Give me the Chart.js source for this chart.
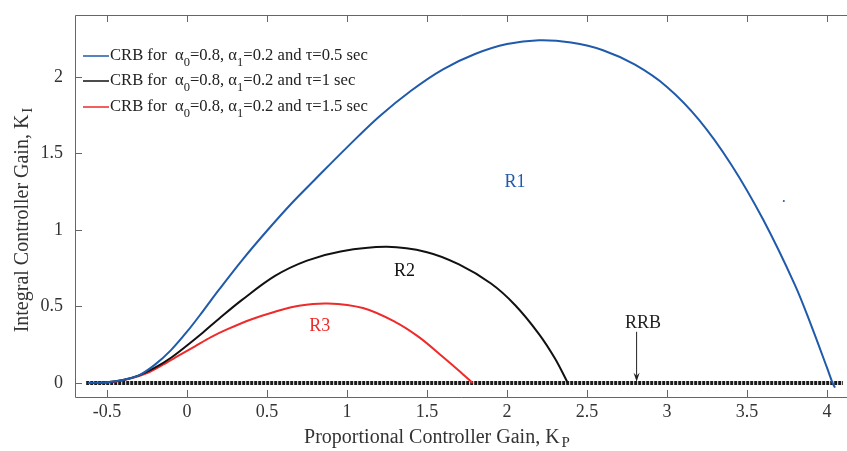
<!DOCTYPE html>
<html>
<head>
<meta charset="utf-8">
<script src="https://cdn.jsdelivr.net/npm/chart.js@4"></script>
<style>
  html, body { margin: 0; padding: 0; background: #fff; }
  #wrap { width: 847px; height: 451px; }
</style>
</head>
<body>
<div id="wrap"><canvas id="crbChart"></canvas></div>
<script>
// stability boundary curves (Kp, Ki)
const kpTau05 = [-0.62, -0.5, -0.4, -0.3, -0.2, -0.1, 0, 0.1, 0.2, 0.35, 0.5, 0.65, 0.8, 1.0, 1.2, 1.4, 1.6, 1.8, 2.0, 2.2, 2.4, 2.6, 2.8, 3.0, 3.2, 3.4, 3.6, 3.8, 3.9, 4.0, 4.035, 4.05];
const kiTau05 = [0, 0.005, 0.02, 0.05, 0.12, 0.215, 0.335, 0.47, 0.61, 0.81, 0.995, 1.17, 1.33, 1.54, 1.74, 1.91, 2.05, 2.15, 2.215, 2.24, 2.225, 2.175, 2.08, 1.935, 1.72, 1.43, 1.07, 0.64, 0.38, 0.1, 0, -0.03];

const kpTau1 = [-0.6, -0.5, -0.4, -0.3, -0.2, -0.1, 0, 0.1, 0.2, 0.34, 0.55, 0.75, 0.96, 1.25, 1.5, 1.7, 1.9, 2.05, 2.2, 2.3, 2.38];
const kiTau1 = [0, 0.005, 0.02, 0.05, 0.1, 0.165, 0.245, 0.33, 0.42, 0.54, 0.70, 0.80, 0.86, 0.89, 0.855, 0.775, 0.65, 0.51, 0.32, 0.16, 0];

const kpTau15 = [-0.55, -0.45, -0.35, -0.25, -0.15, -0.05, 0.05, 0.15, 0.25, 0.4, 0.55, 0.7, 0.88, 1.1, 1.3, 1.45, 1.6, 1.7, 1.785];
const kiTau15 = [0, 0.008, 0.03, 0.065, 0.12, 0.18, 0.24, 0.30, 0.35, 0.415, 0.466, 0.505, 0.52, 0.49, 0.40, 0.30, 0.17, 0.08, 0];

// real root boundary along Ki = 0
const kpRRB = [-0.63, 4.1];
const kiRRB = [0, 0];

// stray point near the blue curve
const kpDot = [3.73];
const kiDot = [1.19];

const tauValues = ['0.5', '1', '1.5'];
const alpha0 = '0.8';
const alpha1 = '0.2';

const xTicks = [-0.5, 0, 0.5, 1, 1.5, 2, 2.5, 3, 3.5, 4];
const yTicks = [0, 0.5, 1, 1.5, 2];

// region labels: text, Kp, Ki
const regionText = ['R1', 'R2', 'R3', 'RRB'];
const regionKp = [2.05, 1.36, 0.83, 2.85];
const regionKi = [1.31, 0.73, 0.37, 0.39];
const arrowKp = 2.81;
const arrowKiTop = 0.335;
const arrowKiTip = 0.008;

const BLUE = '#1f5aab';
const RED = '#ee2a2a';
const BLACK = '#111111';
const SERIF = '"Liberation Serif", "DejaVu Serif", serif';

function pts(xs, ys) {
  return xs.map((x, i) => ({ x: x, y: ys[i] }));
}

// legend with subscripts, drawn top-left inside the axes
const legendPlugin = {
  id: 'subLegend',
  afterDatasetsDraw(chart) {
    const ctx = chart.ctx;
    const colors = [BLUE, BLACK, RED];
    const rows = [56, 81, 107];
    ctx.save();
    tauValues.forEach((tau, i) => {
      const y = rows[i];
      ctx.strokeStyle = colors[i];
      ctx.lineWidth = 1.5;
      ctx.beginPath();
      ctx.moveTo(83, y);
      ctx.lineTo(109, y);
      ctx.stroke();
      const parts = [
        ['CRB for  \u03b1', false], ['0', true], ['=' + alpha0 + ', \u03b1', false], ['1', true],
        ['=' + alpha1 + ' and \u03c4=' + tau + ' sec', false]
      ];
      let x = 110;
      ctx.fillStyle = '#222';
      ctx.textBaseline = 'middle';
      ctx.textAlign = 'left';
      parts.forEach(p => {
        ctx.font = (p[1] ? '12.5px ' : '16.6px ') + SERIF;
        ctx.fillText(p[0], x, p[1] ? y + 7 : y);
        x += ctx.measureText(p[0]).width;
      });
    });
    ctx.restore();
  }
};

// axes box, inward ticks, region labels, arrow, axis titles
const framePlugin = {
  id: 'frame',
  afterDraw(chart) {
    const ctx = chart.ctx;
    const a = chart.chartArea;
    const xs = chart.scales.x;
    const ys = chart.scales.y;
    ctx.save();
    ctx.strokeStyle = '#666';
    ctx.lineWidth = 1;
    ctx.beginPath();
    ctx.moveTo(chart.width, a.top + 0.5);
    ctx.lineTo(a.left + 0.5, a.top + 0.5);
    ctx.lineTo(a.left + 0.5, a.bottom + 0.5);
    ctx.lineTo(chart.width, a.bottom + 0.5);
    xTicks.forEach(v => {
      const px = Math.round(xs.getPixelForValue(v)) + 0.5;
      ctx.moveTo(px, a.bottom);
      ctx.lineTo(px, a.bottom - 7);
      ctx.moveTo(px, a.top);
      ctx.lineTo(px, a.top + 7);
    });
    yTicks.forEach(v => {
      const py = Math.round(ys.getPixelForValue(v)) + 0.5;
      ctx.moveTo(a.left, py);
      ctx.lineTo(a.left + 7, py);
    });
    ctx.stroke();

    // region labels
    const labelColors = [BLUE, BLACK, RED, '#222'];
    ctx.font = '18px ' + SERIF;
    ctx.textAlign = 'center';
    ctx.textBaseline = 'middle';
    regionText.forEach((t, i) => {
      ctx.fillStyle = labelColors[i];
      ctx.fillText(t, xs.getPixelForValue(regionKp[i]), ys.getPixelForValue(regionKi[i]));
    });

    // arrow to the RRB line
    const ax = xs.getPixelForValue(arrowKp);
    const ay0 = ys.getPixelForValue(arrowKiTop);
    const ay1 = ys.getPixelForValue(arrowKiTip);
    ctx.strokeStyle = '#222';
    ctx.fillStyle = '#222';
    ctx.lineWidth = 1;
    ctx.beginPath();
    ctx.moveTo(ax, ay0);
    ctx.lineTo(ax, ay1 - 6);
    ctx.stroke();
    ctx.beginPath();
    ctx.moveTo(ax, ay1);
    ctx.lineTo(ax - 3, ay1 - 9);
    ctx.lineTo(ax, ay1 - 6);
    ctx.lineTo(ax + 3, ay1 - 9);
    ctx.closePath();
    ctx.fill();

    // axis titles with subscripts
    ctx.fillStyle = '#333';
    ctx.textAlign = 'left';
    ctx.textBaseline = 'alphabetic';
    const xMain = 'Proportional Controller Gain, K';
    ctx.font = '20px ' + SERIF;
    const wMain = ctx.measureText(xMain).width;
    ctx.font = '15px ' + SERIF;
    const wSub = ctx.measureText('P').width + 2;
    let x0 = 437 - (wMain + wSub) / 2;
    ctx.font = '20px ' + SERIF;
    ctx.fillText(xMain, x0, 443);
    ctx.font = '15px ' + SERIF;
    ctx.fillText('P', x0 + wMain + 2, 447);

    ctx.translate(28, 220);
    ctx.rotate(-Math.PI / 2);
    const yMain = 'Integral Controller Gain, K';
    ctx.font = '20px ' + SERIF;
    const wyMain = ctx.measureText(yMain).width;
    ctx.font = '15px ' + SERIF;
    const wySub = ctx.measureText('I').width + 2;
    const y0 = -(wyMain + wySub) / 2;
    ctx.font = '20px ' + SERIF;
    ctx.fillText(yMain, y0, 0);
    ctx.font = '15px ' + SERIF;
    ctx.fillText('I', y0 + wyMain + 2, 4);
    ctx.restore();
  }
};

const ctx = document.getElementById('crbChart').getContext('2d');
new Chart(ctx, {
  type: 'scatter',
  data: {
    datasets: [
      { label: 'tau 0.5', data: pts(kpTau05, kiTau05), borderColor: BLUE, borderWidth: 2 },
      { label: 'tau 1', data: pts(kpTau1, kiTau1), borderColor: BLACK, borderWidth: 2 },
      { label: 'tau 1.5', data: pts(kpTau15, kiTau15), borderColor: RED, borderWidth: 2 },
      { label: 'RRB', data: pts(kpRRB, kiRRB), borderColor: '#1a1a1a', borderWidth: 4, borderDash: [3, 1], tension: 0 },
      { label: 'dot', data: pts(kpDot, kiDot), showLine: false, pointRadius: 1, backgroundColor: BLUE, borderWidth: 0 }
    ]
  },
  options: {
    responsive: true,
    maintainAspectRatio: false,
    animation: false,
    datasets: {
      scatter: { showLine: true, pointRadius: 0, tension: 0.35, fill: false }
    },
    layout: { padding: { top: 15, right: 0, left: 0, bottom: 0 } },
    plugins: { legend: { display: false }, tooltip: { enabled: false } },
    scales: {
      x: {
        type: 'linear',
        min: -0.7,
        max: 4.1,
        grid: { display: false, drawTicks: false },
        border: { display: false },
        afterFit(scale) {
          scale.height = 54;
          scale.paddingLeft = 0;
          scale.paddingRight = 0;
        },
        ticks: {
          stepSize: 0.5,
          includeBounds: false,
          padding: 4,
          color: '#333',
          font: { family: SERIF, size: 18 },
          maxRotation: 0,
          autoSkip: false,
          callback: v => String(v)
        }
      },
      y: {
        type: 'linear',
        min: -0.0915,
        max: 2.405,
        grid: { display: false, drawTicks: false },
        border: { display: false },
        afterFit(scale) {
          scale.width = 75;
          scale.paddingTop = 0;
          scale.paddingBottom = 0;
        },
        ticks: {
          stepSize: 0.5,
          includeBounds: false,
          padding: 12,
          color: '#333',
          font: { family: SERIF, size: 18 },
          callback: v => String(v)
        }
      }
    }
  },
  plugins: [legendPlugin, framePlugin]
});
</script>
</body>
</html>
